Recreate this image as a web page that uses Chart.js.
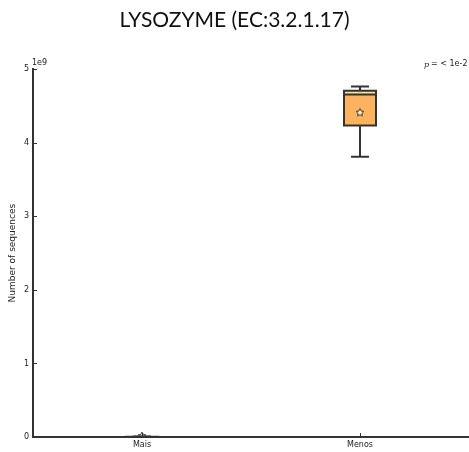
<!DOCTYPE html>
<html>
<head>
<meta charset="utf-8">
<script src="https://cdn.jsdelivr.net/npm/chart.js@4"></script>
<style>
html,body{margin:0;padding:0;background:#fff;}
#wrap{width:469px;height:452px;position:relative;}
</style>
</head>
<body>
<div id="wrap"><canvas id="c"></canvas></div>
<script>
// ---- data ----
const categories = ["Mais", "Menos"];
const whiskerLow  = [0,        3.81e9];
const q1Values    = [0,        4.235e9];
const medians     = [0.002e9,  4.655e9];
const q3Values    = [0.004e9,  4.707e9];
const whiskerHigh = [0.008e9,  4.766e9];
const means       = [0.012e9,  4.41e9];
const yTickValues = [0, 1e9, 2e9, 3e9, 4e9, 5e9];
const titleText = "LYSOZYME (EC:3.2.1.17)";
const yAxisTitle = "Number of sequences";
const pValueText = "= < 1e-2";

// star point image
function makeStar(size){
  const c = document.createElement('canvas');
  c.width = size; c.height = size;
  const g = c.getContext('2d');
  const cx = size/2, cy = size/2, R = size/2 - 1, r = R*0.5;
  g.beginPath();
  for (let k=0;k<10;k++){
    const ang = -Math.PI/2 + k*Math.PI/5;
    const rad = k%2===0 ? R : r;
    const px = cx + rad*Math.cos(ang), py = cy + rad*Math.sin(ang);
    if(k===0) g.moveTo(px,py); else g.lineTo(px,py);
  }
  g.closePath();
  g.fillStyle = '#fff4d0';
  g.fill();
  g.lineWidth = 1;
  g.strokeStyle = '#333';
  g.stroke();
  return c;
}
const starImg = makeStar(10);

const lowerBox = categories.map((_,i)=>[q1Values[i], medians[i]]);
const upperBox = categories.map((_,i)=>[medians[i], q3Values[i]]);

const boxPlugin = {
  id: 'boxExtras',
  afterDatasetsDraw(chart){
    const ctx = chart.ctx;
    const xs = chart.scales.x, ys = chart.scales.y;
    const area = chart.chartArea;
    ctx.save();
    ctx.strokeStyle = '#333';
    ctx.lineWidth = 2;
    categories.forEach((_,i)=>{
      const x = xs.getPixelForValue(i);
      const half = 16;
      const capHalf = 9;
      const yMin = ys.getPixelForValue(whiskerLow[i]);
      const yQ1 = ys.getPixelForValue(q1Values[i]);
      const yQ3 = ys.getPixelForValue(q3Values[i]);
      const yMax = ys.getPixelForValue(whiskerHigh[i]);
      const yMed = ys.getPixelForValue(medians[i]);
      ctx.beginPath();
      ctx.moveTo(x, yQ1); ctx.lineTo(x, yMin);
      ctx.moveTo(x - capHalf, yMin); ctx.lineTo(x + capHalf, yMin);
      ctx.moveTo(x, yQ3); ctx.lineTo(x, yMax);
      ctx.moveTo(x - capHalf, yMax); ctx.lineTo(x + capHalf, yMax);
      ctx.stroke();
      ctx.beginPath();
      ctx.rect(x - half, yQ3, 2*half, yQ1 - yQ3);
      ctx.moveTo(x - half, yMed); ctx.lineTo(x + half, yMed);
      ctx.stroke();
    });
    ctx.lineWidth = 1;
    ctx.strokeStyle = '#333';
    ctx.beginPath();
    yTickValues.forEach(v=>{
      const y = Math.round(ys.getPixelForValue(v)) + 0.5;
      ctx.moveTo(area.left, y); ctx.lineTo(area.left + 4, y);
    });
    categories.forEach((_,i)=>{
      const x = Math.round(xs.getPixelForValue(i)) + 0.5;
      ctx.moveTo(x, area.bottom); ctx.lineTo(x, area.bottom - 4);
    });
    ctx.stroke();
    ctx.fillStyle = '#222';
    ctx.font = '8px "DejaVu Sans"';
    ctx.textBaseline = 'middle';
    ctx.textAlign = 'left';
    ctx.fillText('1e9', area.left - 1, 63);
    ctx.font = 'italic 8px "DejaVu Serif"';
    ctx.fillText('p', 424, 65);
    ctx.font = '8px "DejaVu Sans"';
    ctx.fillText(pValueText, 431, 64);
    ctx.restore();
  }
};

new Chart(document.getElementById('c'), {
  data: {
    labels: categories,
    datasets: [
      {
        type: 'bar',
        label: 'lower',
        data: lowerBox,
        backgroundColor: '#fdb25f',
        borderWidth: 0,
        barThickness: 32,
        grouped: false,
        order: 3
      },
      {
        type: 'bar',
        label: 'upper',
        data: upperBox,
        backgroundColor: '#ffe38c',
        borderWidth: 0,
        barThickness: 32,
        grouped: false,
        order: 2
      },
      {
        type: 'line',
        label: 'mean',
        data: means,
        showLine: false,
        pointStyle: starImg,
        pointRadius: 5,
        order: 1
      }
    ]
  },
  plugins: [boxPlugin],
  options: {
    responsive: true,
    maintainAspectRatio: false,
    animation: false,
    layout: { autoPadding: false, padding: { top: 0, left: 0, right: 0, bottom: 0 } },
    plugins: {
      legend: { display: false },
      tooltip: { enabled: false },
      title: {
        display: true,
        text: titleText,
        color: '#111',
        font: { family: 'Lato', size: 21, weight: 'normal' },
        padding: { top: 8, bottom: 36 }
      }
    },
    scales: {
      x: {
        type: 'category',
        offset: true,
        grid: { display: false, drawTicks: false },
        border: { display: true, color: '#333', width: 2 },
        ticks: { color: '#222', font: { family: 'DejaVu Sans', size: 8 }, padding: 3 },
        afterFit(s){ s.height = 15; }
      },
      y: {
        min: 0,
        max: 5e9,
        grid: { display: false, drawTicks: false },
        border: { display: true, color: '#333', width: 2 },
        afterBuildTicks(s){ s.ticks = yTickValues.map(v=>({value:v})); },
        ticks: {
          color: '#222',
          font: { family: 'DejaVu Sans', size: 8 },
          padding: 4,
          callback: v => String(v/1e9)
        },
        title: {
          display: true,
          text: yAxisTitle,
          color: '#222',
          font: { family: 'DejaVu Sans', size: 9 },
          padding: { top: 7, bottom: 0 }
        },
        afterFit(s){ s.width = 33; }
      }
    }
  }
});
</script>
</body>
</html>
